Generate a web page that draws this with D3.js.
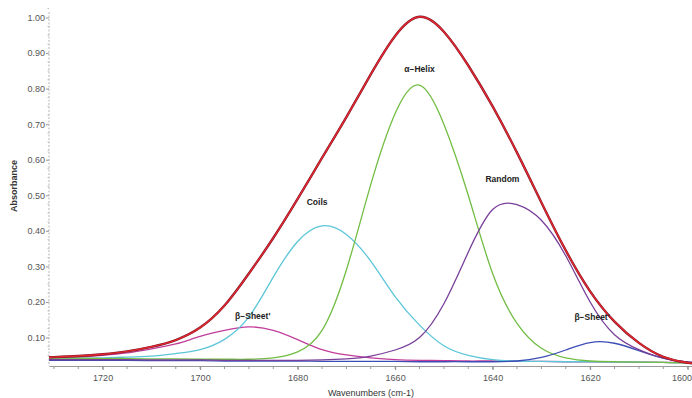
<!DOCTYPE html>
<html>
<head>
<meta charset="utf-8">
<script src="https://cdn.jsdelivr.net/npm/d3@7"></script>
<style>
  body { margin: 0; background: #fff; }
  svg { display: block; }
  .tick text { font-family: "Liberation Sans Narrow", "Arial Narrow", "Liberation Sans", sans-serif; font-size: 9px; fill: #555; }
  .peak-label { font-family: "Liberation Sans", Arial, sans-serif; font-size: 8.5px; font-weight: bold; fill: #222; }
</style>
</head>
<body>
<div id="chart"></div>
<script>
// wavenumbers (cm-1) that every curve was read at
const wavenumbers = [1732, 1730, 1725, 1720, 1715, 1710, 1705, 1700, 1695, 1690, 1685, 1680, 1675, 1670, 1665,
    1660, 1655, 1650, 1645, 1640, 1635, 1630, 1625, 1620, 1615, 1610, 1605, 1600, 1598];

// absorbance
const total = [.044, .045, .048, .053, .061, .074, .093, .128, .19, .28, .38, .49, .605, .72, .84,
    .948, 1.002, .96, .865, .75, .62, .48, .345, .23, .145, .085, .046, .029, .027];
const helix = [.042, .042, .042, .041, .041, .040, .040, .039, .039, .039, .043, .06, .12, .29, .53,
    .73, .81, .70, .50, .28, .14, .07, .043, .034, .032, .031, .03, .029, .029];
const coils = [.042, .042, .042, .043, .045, .048, .055, .066, .095, .158, .27, .37, .414, .39, .315,
    .215, .135, .077, .05, .038, .034, .033, .032, .032, .031, .031, .03, .029, .029];
const sheetPrime = [.041, .042, .045, .05, .057, .068, .082, .103, .12, .13, .12, .094, .066, .051, .043,
    .038, .036, .035, .034, .034, .033, .033, .032, .032, .031, .031, .03, .03, .03];
const random = [.038, .038, .038, .038, .038, .037, .037, .037, .036, .036, .036, .036, .037, .04, .048,
    .065, .10, .195, .34, .46, .474, .43, .33, .20, .108, .066, .042, .031, .029];
const sheet = [.036, .036, .036, .036, .036, .035, .035, .035, .034, .034, .034, .034, .033, .033, .033,
    .033, .032, .032, .032, .032, .034, .044, .065, .086, .084, .063, .042, .031, .029];

const xTicks = [1720, 1700, 1680, 1660, 1640, 1620, 1600];
const yTicks = [0.1, 0.2, 0.3, 0.4, 0.5, 0.6, 0.7, 0.8, 0.9, 1.0];

// label name + where its text sits (wavenumber, absorbance)
const labelNames = ["\u03b1\u2212Helix", "Coils", "Random", "\u03b2\u2212Sheet'", "\u03b2\u2212Sheet'"];
const labelPos = [[1655, 0.855], [1676, 0.482], [1638, 0.546], [1689.2, 0.161], [1619.6, 0.158]];

const width = 692, height = 398;
const margin = {top: 10, right: 0, bottom: 32, left: 49};

const svg = d3.select("#chart")
    .append("svg")
    .attr("width", width)
    .attr("height", height);

const x = d3.scaleLinear()
    .domain([1731, 1599])
    .range([margin.left, 692.5]);

const y = d3.scaleLinear()
    .domain([0.02, 1.02])
    .range([366, 10.4]);

svg.append("clipPath")
    .attr("id", "plot-clip")
    .append("rect")
    .attr("x", margin.left)
    .attr("y", 0)
    .attr("width", width - margin.left)
    .attr("height", 366);

// y axis
const yAxis = svg.append("g")
    .attr("transform", `translate(${margin.left},0)`)
    .call(d3.axisLeft(y).tickValues(yTicks).tickFormat(d3.format(".2f")).tickSize(3).tickSizeOuter(0));
yAxis.select(".domain").remove();
yAxis.selectAll(".tick line").attr("stroke", "#999");
yAxis.selectAll(".tick text").attr("x", -4);
svg.append("line")
    .attr("x1", margin.left).attr("x2", margin.left)
    .attr("y1", 12).attr("y2", 366)
    .attr("stroke", "#b5b5b5")
    .attr("stroke-dasharray", "2,1.5");
// minor y ticks
svg.append("g").selectAll("line")
    .data(d3.range(0.05, 1.03, 0.025))
    .enter().append("line")
    .attr("x1", margin.left - 1.5).attr("x2", margin.left)
    .attr("y1", d => y(d)).attr("y2", d => y(d))
    .attr("stroke", "#bbb");

// x axis
const xAxis = svg.append("g")
    .attr("transform", "translate(0,366)")
    .call(d3.axisBottom(x).tickValues(xTicks).tickFormat(d3.format("d")).tickSize(4).tickSizeOuter(0));
xAxis.select(".domain").attr("stroke", "#999");
xAxis.selectAll(".tick line").attr("stroke", "#888");
xAxis.selectAll(".tick text").attr("y", 9);
// last label sits against the right edge
xAxis.selectAll(".tick text")
    .filter(d => d === 1600)
    .attr("text-anchor", "end")
    .attr("x", 4);
svg.append("g").selectAll("line")
    .data(d3.range(1730, 1599, -5))
    .enter().append("line")
    .attr("x1", d => x(d)).attr("x2", d => x(d))
    .attr("y1", 366).attr("y2", 369)
    .attr("stroke", "#999");

// axis titles
svg.append("text")
    .attr("transform", "translate(17,186) rotate(-90)")
    .attr("text-anchor", "middle")
    .style("font-family", "Liberation Sans, Arial, sans-serif")
    .style("font-size", "9px")
    .style("font-weight", "bold")
    .style("fill", "#333")
    .text("Absorbance");

svg.append("text")
    .attr("x", 371)
    .attr("y", 396)
    .attr("text-anchor", "middle")
    .style("font-family", "Liberation Sans Narrow, Arial Narrow, Liberation Sans, sans-serif")
    .style("font-size", "9px")
    .style("fill", "#333")
    .text("Wavenumbers (cm-1)");

// curves
const line = d3.line()
    .x((d, i) => x(wavenumbers[i]))
    .y(d => y(d))
    .curve(d3.curveNatural);

const plot = svg.append("g").attr("clip-path", "url(#plot-clip)");

const series = [
    {values: sheetPrime, color: "#c13d9c"},
    {values: coils, color: "#5cc6d8"},
    {values: helix, color: "#72bd44"},
    {values: sheet, color: "#3c4db5"},
    {values: random, color: "#783f99"}
];

plot.selectAll(".comp")
    .data(series)
    .enter().append("path")
    .attr("class", "comp")
    .attr("d", d => line(d.values))
    .attr("fill", "none")
    .attr("stroke", d => d.color)
    .attr("stroke-width", 1.3);

// measured spectrum (dark) with the fitted sum (red) over it
plot.append("path")
    .attr("d", line(total))
    .attr("fill", "none")
    .attr("stroke", "#7a1b2e")
    .attr("stroke-width", 2.4);
plot.append("path")
    .attr("d", line(total))
    .attr("fill", "none")
    .attr("stroke", "#e3252d")
    .attr("stroke-width", 1.4);

// peak labels
svg.selectAll(".peak-label")
    .data(labelNames)
    .enter().append("text")
    .attr("class", "peak-label")
    .attr("x", (d, i) => x(labelPos[i][0]))
    .attr("y", (d, i) => y(labelPos[i][1]))
    .attr("text-anchor", "middle")
    .attr("dy", "0.35em")
    .text(d => d);
</script>
</body>
</html>
